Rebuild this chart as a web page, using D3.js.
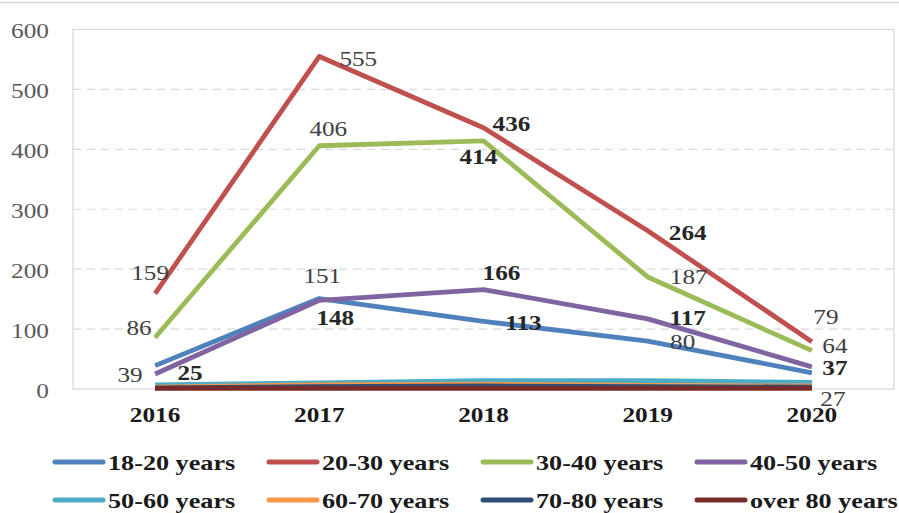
<!DOCTYPE html>
<html>
<head>
<meta charset="utf-8">
<script src="https://cdn.jsdelivr.net/npm/d3@7"></script>
<style>
  html, body { margin: 0; padding: 0; background: #fff; }
  svg { display: block; }
</style>
</head>
<body>
<div id="chart"></div>
<script>
const years = ["2016", "2017", "2018", "2019", "2020"];
const seriesNames = ["18-20 years", "20-30 years", "30-40 years", "40-50 years",
  "50-60 years", "60-70 years", "70-80 years", "over 80 years"];
const age18to20 = [39, 151, 113, 80, 27];
const age20to30 = [159, 555, 436, 264, 79];
const age30to40 = [86, 406, 414, 187, 64];
const age40to50 = [25, 148, 166, 117, 37];
const age50to60 = [7, 10, 14, 14, 11];
const age60to70 = [3, 7, 8, 6, 5];
const age70to80 = [2, 4, 5, 4, 3];
const ageOver80 = [1, 1, 1, 1, 1];
const yTicks = [0, 100, 200, 300, 400, 500, 600];

const colors = ["#4F81BD", "#C0504D", "#9BBB59", "#8064A2",
  "#4BACC6", "#F79646", "#2C4D75", "#772C2A"];
const allValues = [age18to20, age20to30, age30to40, age40to50,
  age50to60, age60to70, age70to80, ageOver80];

// which series get value labels, where they sit relative to the point, and bold flags
const labelled = [0, 1, 2, 3];
const labelOffsets = {
  0: [[-25, 9], [3, -23], [40, 1], [35, 1], [21, 26]],
  1: [[-5, -21], [39, 2], [28, -4], [40, 2], [14, -25]],
  2: [[-16, -10], [9, -17], [-5, 16], [41, 0], [23, -5]],
  3: [[35, -1], [16, 17], [18, -17], [40, -1], [23, 1]]
};
const labelBold = {
  0: [false, false, true, false, false],
  1: [false, false, true, true, false],
  2: [false, false, true, false, false],
  3: [true, true, true, true, true]
};

const W = 899, H = 513;
const margin = { left: 73, right: 5, top: 29.5, bottom: 124 };
const FONT = "'Liberation Serif', 'Times New Roman', serif";

const svg = d3.select("#chart").append("svg")
  .attr("width", W).attr("height", H);

// outer chart frame
svg.append("rect")
  .attr("x", -2).attr("y", 2.5).attr("width", W + 4).attr("height", H + 10)
  .attr("fill", "none").attr("stroke", "#d9d9d9").attr("stroke-width", 1.5);

const x = d3.scalePoint().domain(years)
  .range([margin.left, W - margin.right]).padding(0.5);
const y = d3.scaleLinear().domain([0, 600])
  .range([H - margin.bottom, margin.top]);

// the picture's text is a bit wider than plain Times, so stretch it sideways
function stretchedText(parent, px, py, str, opts) {
  const sx = opts.sx || 1.15;
  const g = parent.append("g")
    .attr("transform", "translate(" + px + "," + py + ") scale(" + sx + ",1)");
  return g.append("text")
    .attr("x", 0).attr("y", 0)
    .attr("dy", "0.35em")
    .attr("text-anchor", opts.anchor || "middle")
    .attr("font-family", FONT)
    .attr("font-size", opts.size || 22)
    .attr("font-weight", opts.bold ? "bold" : "normal")
    .attr("fill", opts.fill || "#404040")
    .text(str);
}

// dashed gridlines
svg.append("g").selectAll("line")
  .data(yTicks.filter(t => t > 0 && t < 600))
  .join("line")
  .attr("x1", margin.left).attr("x2", W - margin.right)
  .attr("y1", d => y(d)).attr("y2", d => y(d))
  .attr("stroke", "#d9d9d9").attr("stroke-width", 1.2)
  .attr("stroke-dasharray", "8,6");

// plot area border
svg.append("rect")
  .attr("x", margin.left).attr("y", margin.top)
  .attr("width", W - margin.right - margin.left)
  .attr("height", y(0) - margin.top)
  .attr("fill", "none").attr("stroke", "#d9d9d9").attr("stroke-width", 1.3);

// y tick labels
yTicks.forEach(t => {
  stretchedText(svg, 49, y(t) + 1, String(t), { anchor: "end", fill: "#595959" });
});

// x labels
years.forEach(yr => {
  stretchedText(svg, x(yr), 414, yr, { bold: true, fill: "#1a1a1a" });
});

// lines
const line = d3.line()
  .x((d, i) => x(years[i]))
  .y(d => y(d));

svg.append("g").selectAll("path")
  .data(allValues)
  .join("path")
  .attr("d", d => line(d))
  .attr("fill", "none")
  .attr("stroke", (d, i) => colors[i])
  .attr("stroke-width", 4.8)
  .attr("stroke-linejoin", "round");

// value labels
const labelLayer = svg.append("g");
labelled.forEach(si => {
  allValues[si].forEach((v, i) => {
    const off = labelOffsets[si][i];
    const bold = labelBold[si][i];
    stretchedText(labelLayer, x(years[i]) + off[0], y(v) + off[1], String(v),
      { size: 21, sx: 1.2, bold: bold, fill: bold ? "#262626" : "#404040" });
  });
});

// legend
const legendCols = [55, 269, 483, 697];
const legendRows = [462, 500];
seriesNames.forEach((name, i) => {
  const lx = legendCols[i % 4];
  const ly = legendRows[Math.floor(i / 4)];
  svg.append("line")
    .attr("x1", lx).attr("x2", lx + 48)
    .attr("y1", ly).attr("y2", ly)
    .attr("stroke", colors[i]).attr("stroke-width", 5)
    .attr("stroke-linecap", "round");
  stretchedText(svg, lx + 53, ly, name,
    { anchor: "start", sx: 1.19, bold: true, fill: "#1a1a1a" });
});
</script>
</body>
</html>
